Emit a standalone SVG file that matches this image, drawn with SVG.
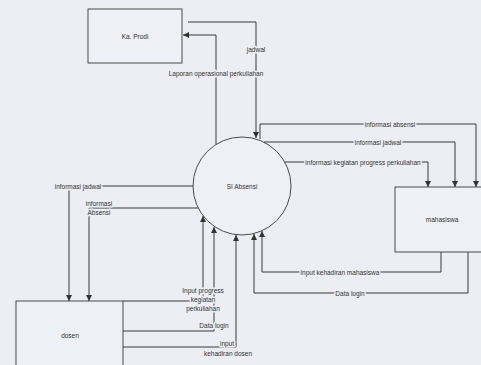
<svg xmlns="http://www.w3.org/2000/svg" width="481" height="365" viewBox="0 0 481 365">
<defs>
<marker id="ah" markerUnits="userSpaceOnUse" markerWidth="6" markerHeight="6" refX="6" refY="3" orient="auto">
<path d="M0,0 L6,3 L0,6 z" fill="#333"/>
</marker>
<style>
.box{fill:#eef0f5;stroke:#4a4a4a;stroke-width:1}
.c{fill:none;stroke:#3a3a3a;stroke-width:1;marker-end:url(#ah)}
text{font-family:"Liberation Sans",Arial,sans-serif;font-size:6.5px;fill:#333;text-anchor:middle;dominant-baseline:central}
.lbl{stroke:#eceef3;stroke-width:3;paint-order:stroke;stroke-linejoin:round}
</style>
</defs>
<rect width="481" height="365" fill="#eceef3"/>
<g id="kaprodi">
<rect class="box" x="88" y="9" width="94" height="54"/>
<text x="135" y="36">Ka. Prodi</text>
</g>
<g id="siabsensi">
<circle class="box" cx="242" cy="186" r="49"/>
<text x="242" y="186">SI Absensi</text>
</g>
<g id="mahasiswa">
<rect class="box" x="395" y="187" width="95" height="65"/>
<text x="442" y="219">mahasiswa</text>
</g>
<g id="dosen">
<rect class="box" x="16" y="301" width="107" height="70"/>
<text x="70" y="335">dosen</text>
</g>
<g id="connectors">
<path class="c" d="M188,22 H256 V138"/>
<path class="c" d="M216,144 V35 H183"/>
<path class="c" d="M260,139 V124 H476 V187"/>
<path class="c" d="M264,142 H455 V187"/>
<path class="c" d="M285,162 H428 V187"/>
<path class="c" d="M441,252 V272 H262 V231"/>
<path class="c" d="M468,252 V293 H254 V234"/>
<path class="c" d="M193,186 H69 V301"/>
<path class="c" d="M198,208 H89 V301"/>
<path class="c" d="M123,301 H203 V216"/>
<path class="c" d="M123,331 H214 V227"/>
<path class="c" d="M123,347 H236 V235"/>
<text class="lbl" x="256" y="49">jadwal</text>
<text class="lbl" x="216" y="73">Laporan operasional perkuliahan</text>
<text class="lbl" x="390" y="124">informasi absensi</text>
<text class="lbl" x="378" y="142">informasi jadwal</text>
<text class="lbl" x="363" y="162">informasi kegiatan progress perkuliahan</text>
<text class="lbl" x="340" y="272">input kehadiran mahasiswa</text>
<text class="lbl" x="350" y="293">Data login</text>
<text class="lbl" x="78" y="186">informasi jadwal</text>
<text class="lbl" x="99" y="203">informasi</text>
<text class="lbl" x="99" y="212">Absensi</text>
<text class="lbl" x="203" y="290">Input progress</text>
<text class="lbl" x="203" y="299">kegiatan</text>
<text class="lbl" x="203" y="308">perkuliahan</text>
<text class="lbl" x="214" y="325">Data login</text>
<text class="lbl" x="227" y="343">input</text>
<text class="lbl" x="228" y="353">kehadiran dosen</text>
</g>
</svg>
